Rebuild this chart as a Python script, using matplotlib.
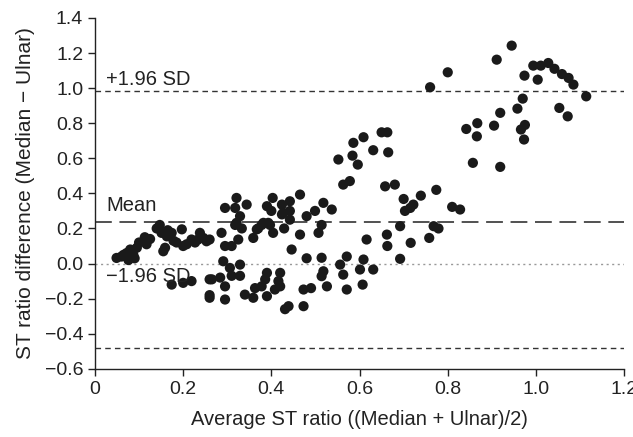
import matplotlib
matplotlib.use("Agg")
import matplotlib.pyplot as plt
import numpy as np

plt.rcParams['font.family'] = ['Liberation Sans', 'DejaVu Sans']

# Average ST ratio (x) and ST ratio difference (y)
avg_ratio = [
    0.049, 0.060, 0.072, 0.080, 0.076, 0.087, 0.095, 0.100, 0.113, 0.117,
    0.140, 0.147, 0.151, 0.163, 0.174, 0.178, 0.159, 0.155, 0.185, 0.197,
    0.200, 0.208, 0.219, 0.227, 0.234, 0.246, 0.260, 0.174, 0.200, 0.219,
    0.260, 0.260, 0.065, 0.090, 0.125, 0.165,
    0.238, 0.253, 0.287, 0.295, 0.318, 0.321, 0.344, 0.329, 0.318, 0.333,
    0.325, 0.310, 0.295, 0.359, 0.367, 0.378, 0.397, 0.404, 0.390, 0.400,
    0.403, 0.424, 0.424, 0.442, 0.442, 0.442, 0.429, 0.465, 0.480, 0.465,
    0.446, 0.480, 0.291, 0.265, 0.284, 0.295, 0.306, 0.310, 0.329, 0.329,
    0.260, 0.295, 0.340, 0.359, 0.363, 0.378, 0.386, 0.390, 0.390, 0.408,
    0.416, 0.420, 0.420, 0.431, 0.439, 0.473, 0.473, 0.321, 0.382, 0.393,
    0.370, 0.427,
    0.499, 0.518, 0.537, 0.514, 0.507, 0.563, 0.578, 0.616, 0.658, 0.680,
    0.662, 0.663, 0.692, 0.514, 0.571, 0.556, 0.609, 0.601, 0.631, 0.518,
    0.514, 0.563, 0.526, 0.490, 0.571, 0.607, 0.692,
    0.650, 0.663, 0.665, 0.700, 0.703, 0.715, 0.722, 0.739, 0.774, 0.810,
    0.828, 0.716, 0.768, 0.779, 0.758, 0.842, 0.867, 0.866, 0.857,
    0.609, 0.586, 0.631, 0.584, 0.552, 0.596,
    0.945, 0.911, 0.994, 1.011, 1.028, 1.042, 1.059, 1.074, 1.085, 0.974,
    1.004, 1.114, 1.053, 1.072, 0.970, 0.958, 0.919, 0.905, 0.975, 0.966,
    0.973, 0.919, 0.760, 0.800,
]
diff_ratio = [
    0.032, 0.040, 0.060, 0.080, 0.020, 0.050, 0.090, 0.120, 0.150, 0.110,
    0.200, 0.220, 0.175, 0.155, 0.175, 0.130, 0.090, 0.070, 0.120, 0.195,
    0.100, 0.110, 0.137, 0.120, 0.137, 0.146, 0.137, -0.120, -0.110, -0.100,
    -0.090, -0.180, 0.050, 0.030, 0.140, 0.190,
    0.175, 0.127, 0.175, 0.317, 0.317, 0.374, 0.336, 0.270, 0.220, 0.200,
    0.137, 0.100, 0.100, 0.146, 0.195, 0.220, 0.220, 0.175, 0.327, 0.300,
    0.374, 0.336, 0.280, 0.355, 0.300, 0.250, 0.200, 0.393, 0.270, 0.165,
    0.080, 0.030, 0.013, -0.090, -0.080, -0.130, -0.025, -0.070, -0.006, -0.070,
    -0.195, -0.205, -0.177, -0.195, -0.140, -0.130, -0.090, -0.186, -0.053, -0.148,
    -0.100, -0.053, -0.130, -0.260, -0.243, -0.148, -0.243, 0.232, 0.232, 0.232,
    0.200, 0.289,
    0.300, 0.346, 0.308, 0.220, 0.175, 0.450, 0.470, 0.137, 0.440, 0.450,
    0.165, 0.100, 0.213, 0.033, 0.040, -0.006, 0.023, -0.034, -0.034, -0.044,
    -0.072, -0.063, -0.130, -0.140, -0.148, -0.120, 0.027,
    0.748, 0.748, 0.634, 0.368, 0.300, 0.317, 0.336, 0.387, 0.420, 0.323,
    0.308, 0.118, 0.213, 0.200, 0.146, 0.767, 0.800, 0.725, 0.574,
    0.720, 0.688, 0.646, 0.615, 0.593, 0.564,
    1.242, 1.162, 1.128, 1.128, 1.143, 1.110, 1.080, 1.058, 1.020, 1.071,
    1.048, 0.953, 0.887, 0.839, 0.940, 0.883, 0.859, 0.786, 0.790, 0.764,
    0.707, 0.551, 1.005, 1.090,
]

mean_diff = 0.235
upper_loa = 0.982
lower_loa = -0.480

x_ticks = [0, 0.2, 0.4, 0.6, 0.8, 1.0, 1.2]
x_tick_labels = ["0", "0.2", "0.4", "0.6", "0.8", "1.0", "1.2"]
y_ticks = [1.4, 1.2, 1.0, 0.8, 0.6, 0.4, 0.2, 0.0, -0.2, -0.4, -0.6]
y_tick_labels = ["1.4", "1.2", "1.0", "0.8", "0.6", "0.4", "0.2", "0.0",
                 "\u22120.2", "\u22120.4", "\u22120.6"]

fig = plt.figure(figsize=(6.33, 4.37), dpi=100)
ax = fig.add_axes([0.150, 0.156, 0.836, 0.803])

ax.axhline(upper_loa, color="#333333", lw=1.0, ls=(0, (4, 3)))
ax.axhline(lower_loa, color="#333333", lw=1.0, ls=(0, (4, 3)))
ax.axhline(mean_diff, color="#222222", lw=1.1, ls=(0, (11, 5)))
ax.axhline(0.0, color="#999999", lw=1.0, ls=(0, (1.5, 2.5)))

ax.scatter(avg_ratio, diff_ratio, s=54, color="#1a1a1a", edgecolors="none", zorder=3)

ax.text(0.025, upper_loa + 0.012, "+1.96 SD", fontsize=14.5, va="bottom", ha="left", color="#222222")
ax.text(0.025, mean_diff + 0.04, "Mean", fontsize=14.5, va="bottom", ha="left", color="#222222")
ax.text(0.025, -0.02, "\u22121.96 SD", fontsize=14.5, va="top", ha="left", color="#222222")

ax.set_xlim(0, 1.2)
ax.set_ylim(-0.6, 1.4)
ax.set_xticks(x_ticks)
ax.set_xticklabels(x_tick_labels)
ax.set_yticks(y_ticks)
ax.set_yticklabels(y_tick_labels)
ax.tick_params(axis="both", direction="out", length=5, width=1, labelsize=14,
               colors="#222222")
for s in ["top", "right"]:
    ax.spines[s].set_visible(False)
for s in ["left", "bottom"]:
    ax.spines[s].set_color("#222222")
    ax.spines[s].set_linewidth(1)

ax.set_xlabel("Average ST ratio ((Median + Ulnar)/2)", fontsize=14.5, color="#222222", labelpad=9)
ax.set_ylabel("ST ratio difference (Median \u2212 Ulnar)", fontsize=15, color="#222222", labelpad=7)

fig.savefig("out.png", dpi=100)
